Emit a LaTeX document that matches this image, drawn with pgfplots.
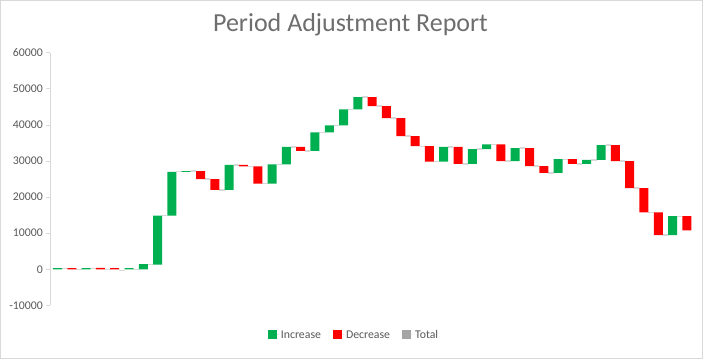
\documentclass[border=0pt]{standalone}
\usepackage{pgfplots}
\usepackage{pgfplotstable}
\pgfplotsset{compat=1.18}
\usepackage{fontspec}
\setmainfont{Carlito}
\definecolor{incG}{HTML}{00B050}
\definecolor{decR}{HTML}{FF0000}
\definecolor{totG}{HTML}{A5A5A5}
\definecolor{txtG}{HTML}{595959}
\definecolor{titG}{HTML}{6E6E6E}
\definecolor{lineG}{HTML}{D9D9D9}

% waterfall bars: start (base) and the rise or fall of each period
\pgfplotstableread{
x base inc dec
0 0 300 0
1 0 0 300
2 0 300 0
3 -100 0 400
4 -400 0 300
5 -400 300 0
6 -100 1400 0
7 1300 13600 0
8 14900 12100 0
9 27000 200 0
10 25000 0 2200
11 22000 0 3000
12 22000 6900 0
13 28500 0 400
14 23700 0 4800
15 23700 5400 0
16 29100 4800 0
17 32800 0 1100
18 32800 5100 0
19 37900 2000 0
20 39900 4400 0
21 44300 3400 0
22 45200 0 2500
23 41900 0 3300
24 36900 0 5000
25 34100 0 2800
26 29800 0 4300
27 29800 4100 0
28 29200 0 4700
29 29200 4100 0
30 33300 1300 0
31 30000 0 4600
32 30000 3600 0
33 28600 0 5000
34 26700 0 1900
35 26700 3800 0
36 29200 0 1300
37 29200 1100 0
38 30300 4100 0
39 30000 0 4400
40 22500 0 7500
41 15800 0 6700
42 9500 0 6300
43 9500 5200 0
44 10800 0 3900
}\bars

% connector levels between neighbouring bars
\pgfplotstableread{
x y
0.5 300
1.5 0
2.5 300
3.5 -100
4.5 -400
5.5 -100
6.5 1300
7.5 14900
8.5 27000
9.5 27200
10.5 25000
11.5 22000
12.5 28900
13.5 28500
14.5 23700
15.5 29100
16.5 33900
17.5 32800
18.5 37900
19.5 39900
20.5 44300
21.5 47700
22.5 45200
23.5 41900
24.5 36900
25.5 34100
26.5 29800
27.5 33900
28.5 29200
29.5 33300
30.5 34600
31.5 30000
32.5 33600
33.5 28600
34.5 26700
35.5 30500
36.5 29200
37.5 30300
38.5 34400
39.5 30000
40.5 22500
41.5 15800
42.5 9500
43.5 14700
}\conn

\begin{document}
\begin{tikzpicture}
\path[use as bounding box] (0,0) rectangle (703pt,359pt);
\fill[white] (0,0) rectangle (703pt,359pt);
\draw[lineG, line width=0.75pt] (0.375pt,0.375pt) rectangle (702.625pt,358.625pt);
\pgfplotsset{
  wf/.style={scale only axis, width=643.65pt, height=252.7pt,
    at={(50.35pt,53.6pt)}, anchor=south west,
    xmin=-0.5, xmax=44.5, ymin=-10000, ymax=60000},
  sq legend/.style={legend image code/.code={\fill[##1] (0pt,-4.5pt) rectangle (9pt,4.5pt); \path (0pt,0pt) -- (11pt,0pt);}}
}
\begin{axis}[wf, hide axis]
\addplot[draw=none, mark=none,
  error bars/.cd, x dir=both, x fixed=0.185, error mark=none,
  error bar style={draw=lineG, line width=1.3pt}] table[x=x,y=y] {\conn};
\end{axis}
\begin{axis}[wf,
  ybar stacked, bar width=9pt,
  axis x line=none, axis y line*=left,
  y axis line style={-, draw=lineG, line width=0.75pt},
  xtick=\empty,
  ytick={-10000,0,10000,20000,30000,40000,50000,60000},
  tick align=outside, ytick pos=left, major tick length=4pt,
  ytick style={draw=lineG, line width=0.75pt},
  scaled y ticks=false,
  /pgf/number format/assume math mode=true,
  /pgf/number format/1000 sep={},
  yticklabel style={font=\fontsize{11.8}{14}\selectfont, text=txtG},
  legend columns=3,
  legend style={at={(axis description cs:0.4718,-0.1171)}, anchor=center,
    draw=none, fill=none, font=\fontsize{11.8}{14}\selectfont, text=txtG,
    /tikz/every even column/.append style={column sep=10pt}},
]
\addplot[draw=none, fill=none, forget plot] table[x=x,y=base]{\bars};
\addplot[draw=none, fill=incG, sq legend] table[x=x,y=inc]{\bars};
\addlegendentry{Increase}
\addplot[draw=none, fill=decR, sq legend] table[x=x,y=dec]{\bars};
\addlegendentry{Decrease}
\addlegendimage{draw=none, fill=totG, sq legend}
\addlegendentry{Total}
\end{axis}
\node[anchor=base, font=\fontsize{26}{30}\selectfont, text=titG] at (350.5pt,327.5pt) {Period Adjustment Report};
\end{tikzpicture}
\end{document}
